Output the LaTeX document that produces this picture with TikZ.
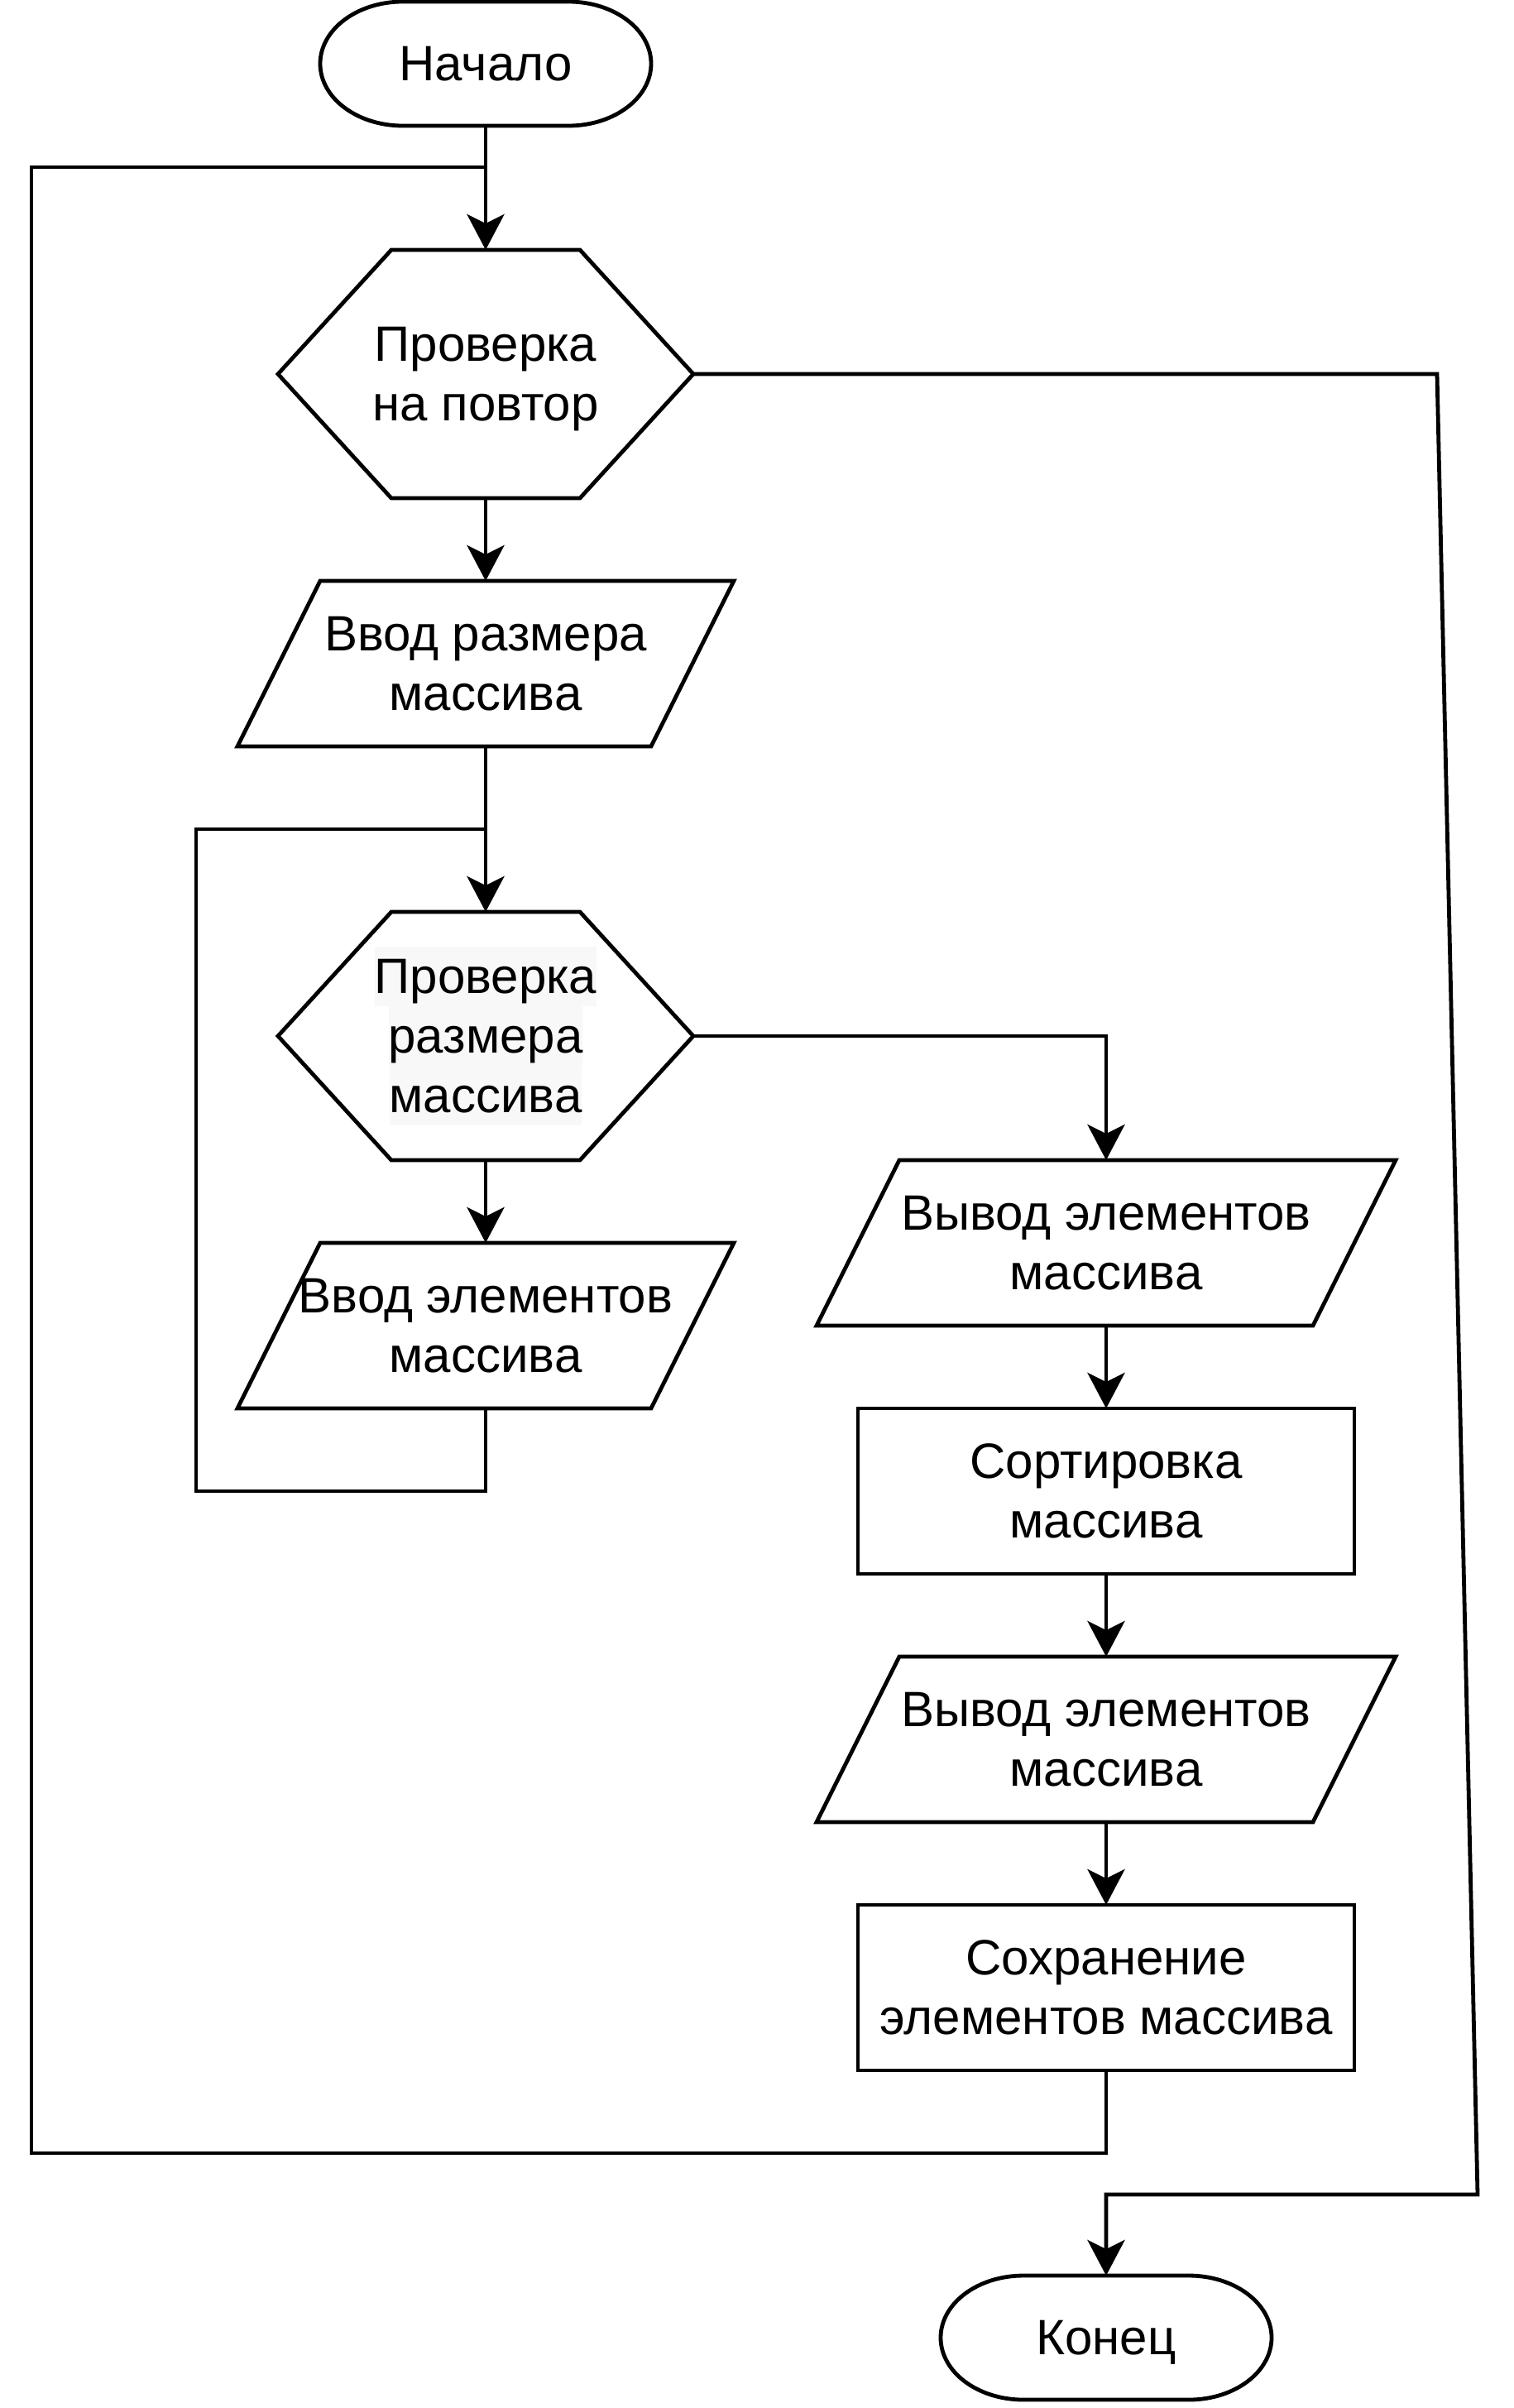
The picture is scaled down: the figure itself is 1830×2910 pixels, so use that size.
\documentclass[tikz,border=0pt]{standalone}
\usepackage{fontspec}
\setmainfont{Liberation Sans}
\usetikzlibrary{arrows.meta,calc}
\definecolor{hlc}{RGB}{248,248,248}
\newcommand\ls{\rule[-15.3pt]{0pt}{72pt}}
\newcommand\hl[1]{{\setlength\fboxsep{0pt}\colorbox{hlc}{\ls#1}}}
\newcommand\termpath[1]{\draw ($(#1.north west)+(100pt,0)$) -- ($(#1.north east)+(-100pt,0)$) arc[start angle=90,end angle=-90,x radius=100pt,y radius=75pt] -- ($(#1.south west)+(100pt,0)$) arc[start angle=270,end angle=90,x radius=100pt,y radius=75pt] -- cycle;}
\newcommand\hexpath[1]{\draw ($(#1.north west)+(137pt,0)$) -- ($(#1.north east)+(-137pt,0)$) -- (#1.east) -- ($(#1.south east)+(-137pt,0)$) -- ($(#1.south west)+(137pt,0)$) -- (#1.west) -- cycle;}
\newcommand\parpath[1]{\draw ($(#1.north west)+(100pt,0)$) -- (#1.north east) -- ($(#1.south east)+(-100pt,0)$) -- (#1.south west) -- cycle;}
\begin{document}
\begin{tikzpicture}[x=1pt,y=-1pt,line width=4.8pt,line join=miter,
  box/.style={inner sep=0pt,outer sep=0pt,font=\fontsize{60}{72}\selectfont,align=center,minimum height=200pt},
  hexbox/.style={box,minimum width=502pt,minimum height=300pt},
  parbox/.style={box,minimum width=600pt},
  parwide/.style={box,minimum width=700pt},
  procbox/.style={box,draw,minimum width=600pt},
  termbox/.style={box,minimum width=400pt,minimum height=150pt},
  arr/.style={-{Stealth[length=43pt,width=45pt,inset=11pt]}}]
\fill[white] (0,0) rectangle (1830,2910);
\useasboundingbox (0,0) rectangle (1830,2910);

\node[termbox] (start) at (587,77) {\ls Начало};
\node[hexbox] (h1) at (587,452) {\ls Проверка\\\ls на повтор};
\node[parbox] (p1) at (587,802) {\ls Ввод размера\\\ls массива};
\node[hexbox] (h2) at (587,1252) {\hl{Проверка}\\\hl{размера}\\\hl{массива}};
\node[parbox] (p2) at (587,1602) {\ls Ввод элементов\\\ls массива};
\node[parwide] (p3) at (1337,1502) {\ls Вывод элементов\\\ls массива};
\node[procbox] (r1) at (1337,1802) {\ls Сортировка\\\ls массива};
\node[parwide] (p4) at (1337,2102) {\ls Вывод элементов\\\ls массива};
\node[procbox] (r2) at (1337,2402) {\ls Сохранение\\\ls элементов массива};
\node[termbox] (end) at (1337,2825) {\ls Конец};

\termpath{start}
\termpath{end}
\hexpath{h1}
\hexpath{h2}
\parpath{p1}
\parpath{p2}
\parpath{p3}
\parpath{p4}

\coordinate (j1) at (587,202);
\coordinate (j2) at (587,1002);
\coordinate (l1) at (38,2602);
\coordinate (l2) at (237,1802);
\coordinate (c1) at (1737,452);
\coordinate (c2) at (1786,2652);

\draw[arr] (start.south) -- (h1.north);
\draw[arr] (h1.south) -- (p1.north);
\draw[arr] (p1.south) -- (h2.north);
\draw[arr] (h2.south) -- (p2.north);
\draw[arr] (h2.east) -| (p3.north);
\draw[arr] (p3.south) -- (r1.north);
\draw[arr] (r1.south) -- (p4.north);
\draw[arr] (p4.south) -- (r2.north);
\draw (r2.south) |- (l1) |- (j1);
\draw (p2.south) |- (l2) |- (j2);
\draw[arr] (h1.east) -- (c1) -- (c2) -| (end.north);
\end{tikzpicture}
\end{document}
